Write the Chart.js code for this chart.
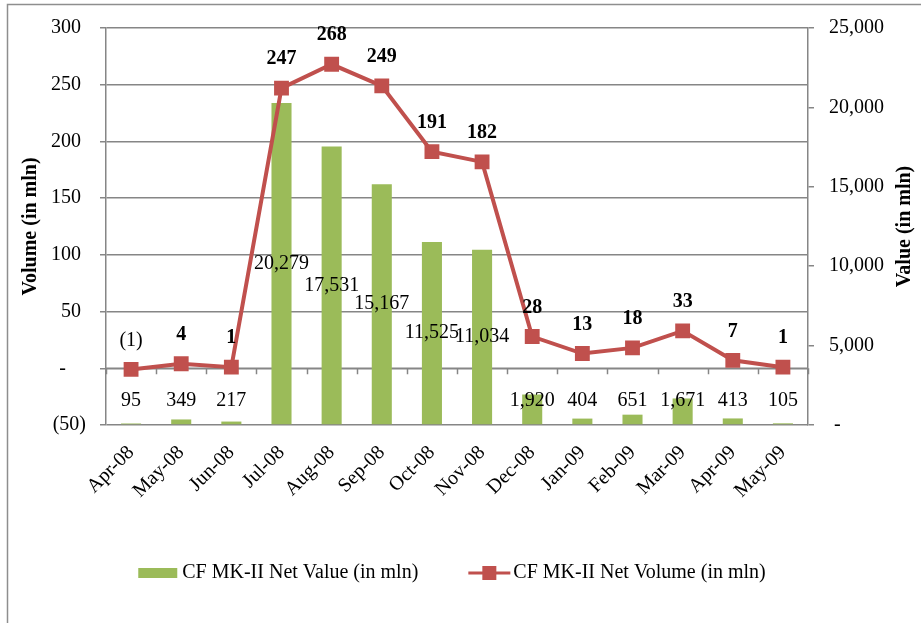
<!DOCTYPE html>
<html>
<head>
<meta charset="utf-8">
<script src="https://cdn.jsdelivr.net/npm/chart.js@4.4.0/dist/chart.umd.min.js"></script>
<style>
body { margin: 0; background: #fff; }
canvas { display: block; }
</style>
</head>
<body>
<canvas id="chart" width="921" height="623"></canvas>
<script>
const months = ['Apr-08', 'May-08', 'Jun-08', 'Jul-08', 'Aug-08', 'Sep-08', 'Oct-08',
    'Nov-08', 'Dec-08', 'Jan-09', 'Feb-09', 'Mar-09', 'Apr-09', 'May-09'];
const netValue = [95, 349, 217, 20279, 17531, 15167, 11525, 11034, 1920, 404, 651, 1671, 413, 105];
const netVolume = [-1, 4, 1, 247, 268, 249, 191, 182, 28, 13, 18, 33, 7, 1];
const volumeTicks = [-50, 0, 50, 100, 150, 200, 250, 300];
const valueTicks = [0, 5000, 10000, 15000, 20000, 25000];

const valueLabel = 'CF MK-II Net Value (in mln)';
const volumeLabel = 'CF MK-II Net Volume (in mln)';

const FONT = "'Liberation Serif', 'Times New Roman', serif";
const GREEN = '#9BBB59';
const RED = '#C0504D';
const GRID = '#868686';

function fmtVolume(v) {
    if (v === 0) return '-    ';
    if (v < 0) return '(' + Math.abs(v) + ')';
    return v + ' ';
}
function fmtValue(v) {
    if (v === 0) return ' -';
    return v.toLocaleString('en-US');
}

// page frame (slide border)
const frame = {
    id: 'frame',
    beforeDraw(chart) {
        const ctx = chart.ctx;
        ctx.save();
        ctx.fillStyle = '#fff';
        ctx.fillRect(0, 0, chart.width, chart.height);
        ctx.strokeStyle = '#8e8e8e';
        ctx.lineWidth = 1.5;
        ctx.beginPath();
        ctx.moveTo(7.5, chart.height);
        ctx.lineTo(7.5, 4.5);
        ctx.lineTo(chart.width, 4.5);
        ctx.stroke();
        ctx.restore();
    }
};

// category axis line sits on the zero of the volume scale
const zeroAxis = {
    id: 'zeroAxis',
    beforeDatasetsDraw(chart) {
        const ctx = chart.ctx;
        const xs = chart.scales.x, ys = chart.scales.y;
        const area = chart.chartArea;
        const y0 = ys.getPixelForValue(0);
        const half = (xs.getPixelForValue(1) - xs.getPixelForValue(0)) / 2;
        ctx.save();
        ctx.strokeStyle = GRID;
        ctx.lineWidth = 1.5;
        ctx.beginPath();
        ctx.moveTo(area.left, y0);
        ctx.lineTo(area.right, y0);
        for (let i = 0; i <= months.length; i++) {
            const x = Math.round(xs.getPixelForValue(i) - half) + 0.5;
            ctx.moveTo(x, y0);
            ctx.lineTo(x, y0 + 6);
        }
        ctx.stroke();
        ctx.restore();
    }
};

const dataLabels = {
    id: 'dataLabels',
    afterDatasetsDraw(chart) {
        const ctx = chart.ctx;
        ctx.save();
        ctx.fillStyle = '#000';
        ctx.textAlign = 'center';
        ctx.textBaseline = 'middle';
        // bar values, centred in the bar
        const bars = chart.getDatasetMeta(0).data;
        ctx.font = '20px ' + FONT;
        bars.forEach((el, i) => {
            const mid = (el.y + el.base) / 2;
            const y = Math.min(mid, el.base - 24);
            ctx.fillText(netValue[i].toLocaleString('en-US'), el.x, y);
        });
        // volume values, above the markers
        const pts = chart.getDatasetMeta(1).data;
        pts.forEach((el, i) => {
            const v = netVolume[i];
            ctx.font = (v < 0 ? '' : 'bold ') + '20px ' + FONT;
            const txt = v < 0 ? '(' + Math.abs(v) + ')' : String(v);
            ctx.fillText(txt, el.x, el.y - 29);
        });
        ctx.restore();
    }
};

const titlesAndLegend = {
    id: 'titlesAndLegend',
    afterDraw(chart) {
        const ctx = chart.ctx;
        const area = chart.chartArea;
        const cy = (area.top + area.bottom) / 2;
        ctx.save();
        ctx.fillStyle = '#000';
        ctx.textAlign = 'center';
        ctx.textBaseline = 'middle';
        ctx.font = 'bold 20px ' + FONT;
        [[31, 'Volume (in mln)'], [905, 'Value (in mln)']].forEach(([x, t]) => {
            ctx.save();
            ctx.translate(x, cy);
            ctx.rotate(-Math.PI / 2);
            ctx.fillText(t, 0, 0);
            ctx.restore();
        });

        // legend
        ctx.font = '20px ' + FONT;
        ctx.textAlign = 'left';
        const w1 = ctx.measureText(valueLabel).width;
        const w2 = ctx.measureText(volumeLabel).width;
        const total = 39 + 5 + w1 + 50 + 42 + 3 + w2;
        let x = (area.left + area.right) / 2 - 5 - total / 2;
        const ly = 573;
        ctx.fillStyle = GREEN;
        ctx.fillRect(x, ly - 5, 39, 10);
        x += 44;
        ctx.fillStyle = '#000';
        ctx.fillText(valueLabel, x, ly);
        x += w1 + 50;
        ctx.strokeStyle = RED;
        ctx.lineWidth = 3;
        ctx.beginPath();
        ctx.moveTo(x, ly);
        ctx.lineTo(x + 42, ly);
        ctx.stroke();
        ctx.fillStyle = RED;
        ctx.fillRect(x + 14, ly - 7, 14, 14);
        x += 45;
        ctx.fillStyle = '#000';
        ctx.fillText(volumeLabel, x, ly);
        ctx.restore();
    }
};

const config = {
    data: {
        labels: months,
        datasets: [{
            type: 'bar',
            label: valueLabel,
            data: netValue,
            yAxisID: 'y1',
            backgroundColor: GREEN,
            barPercentage: 0.4,
            categoryPercentage: 1,
            order: 1
        }, {
            type: 'line',
            label: volumeLabel,
            data: netVolume,
            yAxisID: 'y',
            borderColor: RED,
            backgroundColor: RED,
            borderWidth: 4,
            pointStyle: 'rect',
            pointRadius: 10.5,
            pointBorderWidth: 0,
            tension: 0,
            order: 0
        }]
    },
    options: {
        responsive: false,
        animation: false,
        events: [],
        layout: { padding: { top: 28, bottom: 98, left: 0, right: 0 } },
        plugins: { legend: { display: false }, tooltip: { enabled: false } },
        scales: {
            x: {
                offset: true,
                grid: { display: false, drawTicks: false },
                border: { display: false },
                ticks: {
                    color: '#000',
                    font: { family: FONT, size: 20 },
                    minRotation: 45,
                    maxRotation: 45,
                    padding: 16
                },
                afterFit(scale) { scale.height = 100; }
            },
            y: {
                position: 'left',
                min: -50,
                max: 300,
                afterBuildTicks(scale) { scale.ticks = volumeTicks.map(v => ({ value: v })); },
                grid: { color: GRID, lineWidth: 1.5, tickLength: 6 },
                border: { color: GRID, width: 1.5 },
                ticks: {
                    color: '#000',
                    font: { family: FONT, size: 20 },
                    padding: 14,
                    callback: v => fmtVolume(v)
                },
                afterFit(scale) { scale.width = 106; }
            },
            y1: {
                position: 'right',
                min: 0,
                max: 25000,
                afterBuildTicks(scale) { scale.ticks = valueTicks.map(v => ({ value: v })); },
                grid: { drawOnChartArea: false, color: GRID, lineWidth: 1.5, tickLength: 6 },
                border: { color: GRID, width: 1.5 },
                ticks: {
                    color: '#000',
                    font: { family: FONT, size: 20 },
                    padding: 15,
                    callback: v => fmtValue(v)
                },
                afterFit(scale) { scale.width = 113; }
            }
        }
    },
    plugins: [frame, zeroAxis, dataLabels, titlesAndLegend]
};

new Chart(document.getElementById('chart'), config);
</script>
</body>
</html>
